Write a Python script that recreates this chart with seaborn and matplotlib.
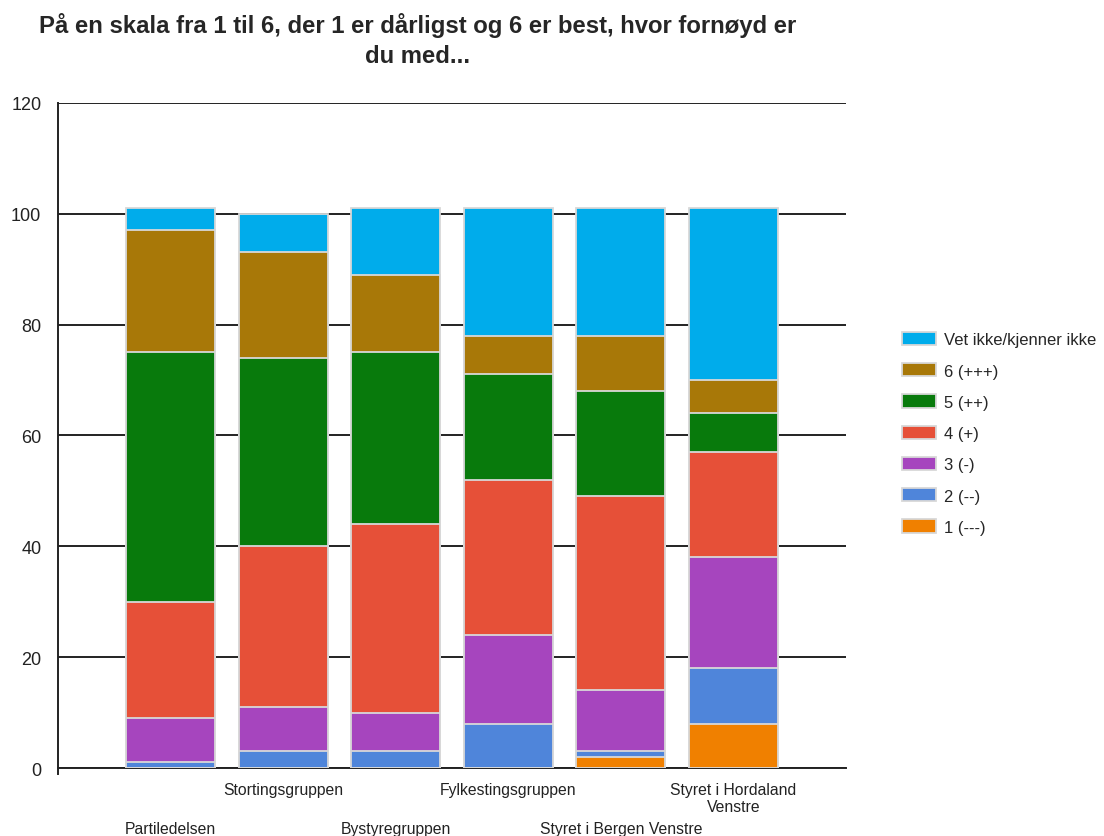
import numpy as np
import pandas as pd
import matplotlib
matplotlib.use("Agg")
import matplotlib.pyplot as plt
import seaborn as sns

# categories and values (percent)
groups = ["Partiledelsen", "Stortingsgruppen", "Bystyregruppen",
          "Fylkestingsgruppen", "Styret i Bergen Venstre",
          "Styret i Hordaland\nVenstre"]
s1 = [0, 0, 0, 0, 2, 8]          # 1 (---)
s2 = [1, 3, 3, 8, 1, 10]         # 2 (--)
s3 = [8, 8, 7, 16, 11, 20]       # 3 (-)
s4 = [21, 29, 34, 28, 35, 19]    # 4 (+)
s5 = [45, 34, 31, 19, 19, 7]     # 5 (++)
s6 = [22, 19, 14, 7, 10, 6]      # 6 (+++)
vet = [4, 7, 12, 23, 23, 31]     # Vet ikke/kjenner ikke

series_names = ["1 (---)", "2 (--)", "3 (-)", "4 (+)", "5 (++)", "6 (+++)",
                "Vet ikke/kjenner ikke"]
series_vals = [s1, s2, s3, s4, s5, s6, vet]
colors = ["#F08000", "#4F85DA", "#A645BE", "#E65038", "#087A0C", "#A87808",
          "#00ACEB"]

sns.set_style("white")
plt.rcParams["font.family"] = ["Liberation Sans", "DejaVu Sans"]

df = pd.DataFrame(dict(zip(series_names, series_vals)), index=groups)
cum = df.cumsum(axis=1)

fig = plt.figure(figsize=(11.04, 8.37), dpi=100)
ax = fig.add_axes([0.0525, 0.0812, 0.7138, 0.7948])

# draw cumulative bars from the top series down so each one covers the next
for name, col in zip(series_names[::-1], colors[::-1]):
    sns.barplot(x=groups, y=cum[name].values, color=col, width=0.79,
                edgecolor="#d8d8d8", linewidth=1.3, errorbar=None,
                saturation=1, label=name, ax=ax, zorder=3)

ax.set_ylim(0, 120)
ax.set_xlim(-1, 6)
ax.set_yticks(np.arange(0, 121, 20))
ax.yaxis.grid(True, color="#222222", linewidth=1.4)
ax.xaxis.grid(False)
ax.set_axisbelow(True)
for sp in ["top", "right"]:
    ax.spines[sp].set_visible(False)
ax.spines["left"].set_color("#222222")
ax.spines["bottom"].set_color("#222222")
ax.spines["left"].set_linewidth(1.4)
ax.spines["bottom"].set_linewidth(1.4)
ax.spines["left"].set_bounds(-1.1, 120)

ax.set_xticks(np.arange(-1, 7))
ax.set_xticklabels([""] + groups + [""], fontsize=11.3, color="#222222",
                   va="top", ma="center")
ax.tick_params(axis="x", length=6, width=1.4, color="#222222", direction="out")
ax.tick_params(axis="y", length=9, width=1.4, color="#222222", labelsize=13,
               labelcolor="#222222", pad=3)
for i, tick in enumerate(ax.xaxis.get_major_ticks()):
    idx = i - 1
    if 0 <= idx < len(groups):
        tick.set_pad(4 if idx % 2 == 1 else 32)

ax.set_xlabel("")
ax.set_ylabel("")

handles, labels = ax.get_legend_handles_labels()
ax.legend(handles, labels, loc="center left", bbox_to_anchor=(1.063, 0.503),
          frameon=False, fontsize=12, handlelength=2.0, handleheight=0.85,
          labelspacing=0.95, handletextpad=0.5, borderaxespad=0)

fig.suptitle("På en skala fra 1 til 6, der 1 er dårligst og 6 er best, hvor fornøyd er\ndu med...",
             x=0.378, y=0.985, fontsize=17.2, fontweight="bold", va="top",
             linespacing=1.4)

fig.savefig("out.png", dpi=100)
